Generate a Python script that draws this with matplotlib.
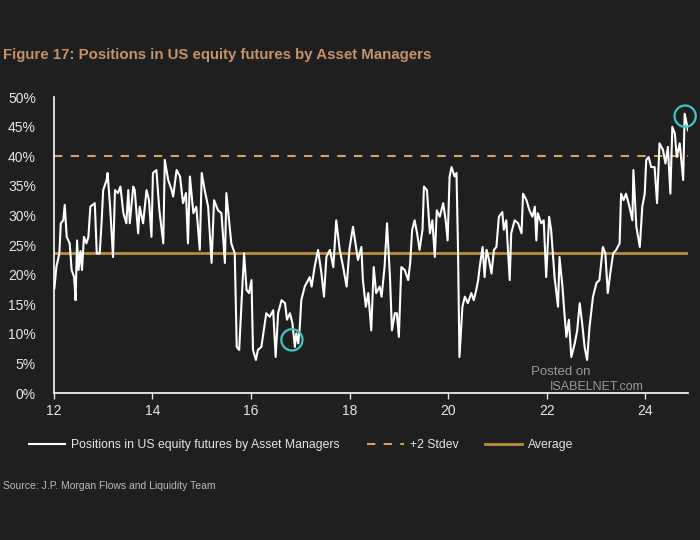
import numpy as np
import matplotlib.pyplot as plt
from matplotlib.patches import Ellipse

# weekly-ish samples (year, % of positions)
years = [12.01, 12.05, 12.11, 12.14, 12.19, 12.22, 12.26, 12.32, 12.36, 12.41, 12.44, 12.47, 12.50, 12.54,
         12.57, 12.61, 12.66, 12.70, 12.74, 12.83, 12.87, 12.93, 12.97, 13.00, 13.07, 13.09, 13.14, 13.20,
         13.24, 13.30, 13.35, 13.41, 13.47, 13.51, 13.54, 13.61, 13.64, 13.71, 13.74, 13.81, 13.88, 13.93,
         13.98, 14.01, 14.08, 14.14, 14.18, 14.22, 14.25, 14.32, 14.39, 14.42, 14.49, 14.56, 14.62, 14.68,
         14.72, 14.76, 14.83, 14.89, 14.96, 15.00, 15.06, 15.13, 15.20, 15.25, 15.33, 15.40, 15.47, 15.50,
         15.56, 15.60, 15.67, 15.71, 15.76, 15.81, 15.86, 15.91, 15.96, 16.01, 16.04, 16.10, 16.14, 16.21,
         16.25, 16.31, 16.38, 16.45, 16.50, 16.55, 16.62, 16.69, 16.73, 16.79, 16.84, 16.89, 16.92, 16.96,
         16.99, 17.02, 17.09, 17.19, 17.23, 17.29, 17.36, 17.43, 17.48, 17.53, 17.60, 17.67, 17.73, 17.80,
         17.87, 17.94, 18.00, 18.07, 18.13, 18.17, 18.24, 18.27, 18.33, 18.38, 18.44, 18.49, 18.54, 18.61,
         18.65, 18.71, 18.76, 18.82, 18.86, 18.92, 18.96, 19.00, 19.05, 19.12, 19.19, 19.23, 19.27, 19.32,
         19.37, 19.42, 19.48, 19.51, 19.57, 19.63, 19.68, 19.73, 19.77, 19.83, 19.90, 19.95, 19.99, 20.03,
         20.07, 20.13, 20.17, 20.20, 20.23, 20.29, 20.34, 20.40, 20.47, 20.52, 20.57, 20.61, 20.64, 20.70,
         20.74, 20.78, 20.83, 20.88, 20.93, 20.98, 21.03, 21.10, 21.13, 21.18, 21.25, 21.28, 21.35, 21.42,
         21.49, 21.52, 21.59, 21.65, 21.71, 21.76, 21.79, 21.82, 21.89, 21.94, 21.99, 22.05, 22.09, 22.16,
         22.23, 22.26, 22.32, 22.36, 22.40, 22.45, 22.50, 22.57, 22.62, 22.67, 22.72, 22.77, 22.82, 22.87,
         22.94, 23.01, 23.07, 23.14, 23.19, 23.24, 23.29, 23.35, 23.41, 23.48, 23.51, 23.56, 23.61, 23.68,
         23.74, 23.76, 23.82, 23.89, 23.94, 23.99, 24.02, 24.07, 24.12, 24.19, 24.24, 24.29, 24.36, 24.41,
         24.46, 24.51, 24.55, 24.60, 24.64, 24.70, 24.77, 24.80, 24.87]
positions = [17.7, 21.3, 23.6, 28.7, 29.2, 31.8, 26.4, 25.3, 20.8, 19.6, 15.7, 25.8, 20.8, 24.0,
             20.8, 26.4, 25.3, 26.4, 31.5, 32.1, 23.6, 23.6, 29.2, 34.3, 36.0, 37.2, 31.5, 23.0,
             34.3, 33.8, 34.9, 30.4, 28.7, 34.3, 28.7, 34.9, 34.3, 27.0, 31.5, 28.7, 34.3, 32.6,
             26.4, 37.2, 37.7, 30.9, 28.1, 25.3, 39.4, 36.0, 34.3, 33.2, 37.7, 36.6, 32.1, 33.8,
             25.3, 36.6, 30.4, 31.5, 24.2, 37.2, 34.3, 31.5, 22.0, 32.6, 30.9, 30.4, 22.0, 33.8,
             28.7, 25.3, 23.6, 7.8, 7.3, 15.7, 23.6, 17.4, 16.9, 19.1, 7.3, 5.6, 7.3, 7.8,
             10.1, 13.5, 12.9, 14.0, 6.1, 13.5, 15.7, 15.2, 12.4, 13.5, 11.8, 7.8, 10.1, 8.4,
             11.2, 15.7, 18.0, 19.6, 18.0, 21.3, 24.2, 20.2, 16.3, 23.0, 24.2, 21.3, 29.2, 24.2,
             21.3, 18.0, 24.5, 28.1, 24.7, 22.5, 24.7, 19.1, 14.6, 16.9, 10.6, 21.3, 16.9, 18.0,
             16.3, 21.3, 28.7, 19.6, 10.6, 13.5, 13.5, 9.5, 21.3, 20.8, 19.1, 22.0, 27.6, 29.2,
             27.0, 24.2, 27.6, 34.9, 34.3, 27.0, 29.2, 23.0, 30.9, 29.8, 32.1, 29.2, 25.8, 36.6,
             38.2, 36.6, 37.2, 24.7, 6.1, 14.6, 16.3, 15.2, 16.9, 15.7, 17.4, 19.1, 21.3, 24.7,
             19.6, 24.2, 22.5, 20.2, 24.2, 24.7, 29.8, 30.6, 27.6, 29.2, 19.1, 27.0, 29.2, 28.7,
             27.0, 33.7, 32.6, 30.9, 29.8, 31.5, 25.8, 30.4, 28.7, 29.2, 19.6, 29.8, 27.6, 19.6,
             14.6, 23.0, 18.0, 13.5, 9.5, 12.4, 6.1, 8.4, 10.6, 15.2, 11.8, 7.8, 5.6, 11.2,
             16.3, 18.6, 19.1, 24.7, 23.6, 16.9, 20.2, 23.6, 24.2, 25.3, 33.7, 32.6, 33.7, 31.5,
             29.2, 37.7, 28.1, 24.7, 31.5, 33.7, 39.4, 39.9, 38.2, 38.2, 32.1, 42.2, 41.1, 38.8,
             41.6, 33.7, 45.0, 43.9, 39.9, 42.2, 36.0, 47.2, 44.4]
average = 23.7
plus2_stdev = 40.0
# highlighted points (circled on the chart)
circle_years = [16.83, 24.81]
circle_vals = [9.0, 46.8]

bg = "#1f1f1f"
txt = "#e6e6e6"
plt.rcParams['font.family'] = ['Liberation Sans', 'DejaVu Sans']

fig = plt.figure(figsize=(7, 5.4), dpi=100, facecolor=bg)
ax = fig.add_axes([0.077, 0.272, 0.906, 0.548])
ax.set_facecolor(bg)

ax.plot(years, positions, color="white", lw=1.5, label="Positions in US equity futures by Asset Managers", zorder=3)
ax.axhline(plus2_stdev, color="#d6a35e", lw=1.5, ls=(0, (4, 4)), label="+2 Stdev", zorder=2)
ax.axhline(average, color="#b8913a", lw=2, label="Average", zorder=2)

# circles: ellipse in data units so it looks round on screen
for cx, cy in zip(circle_years, circle_vals):
    ax.add_patch(Ellipse((cx, cy), width=0.43, height=3.6, fill=False, ec="#3cc8c0", lw=1.6,
                         zorder=4, clip_on=False))

ax.set_xlim(12, 24.87)
ax.set_ylim(0, 50)
ax.set_xticks(np.arange(12, 25, 2))
ax.set_xticklabels([str(v) for v in range(12, 25, 2)])
ax.set_yticks(np.arange(0, 51, 5))
ax.set_yticklabels([f"{v}%" for v in range(0, 51, 5)])
ax.tick_params(axis="x", colors=txt, labelsize=10, length=4, width=1, direction="out")
ax.tick_params(axis="y", colors=txt, labelsize=10, length=0, pad=13)
for s in ["top", "right"]:
    ax.spines[s].set_visible(False)
for s in ["left", "bottom"]:
    ax.spines[s].set_color("white")
    ax.spines[s].set_linewidth(1.2)

fig.text(0.004, 0.898, "Figure 17: Positions in US equity futures by Asset Managers",
         color="#c8926a", fontsize=10.8, fontweight="bold", va="center")
fig.text(0.004, 0.094, "Source: J.P. Morgan Flows and Liquidity Team", color="#bbbbbb", fontsize=7.5)

# watermark (kept just above the x axis so it does not sit on the tick labels)
fig.text(0.758, 0.305, "Posted on", color="#9a9a9a", fontsize=9.5)
fig.text(0.785, 0.278, "ISABELNET.com", color="#9a9a9a", fontsize=9)

leg = fig.legend(loc="center", bbox_to_anchor=(0.43, 0.176), ncol=3, frameon=False,
                 fontsize=8.8, handlelength=3.0, columnspacing=2.2, handletextpad=0.5)
for t in leg.get_texts():
    t.set_color(txt)

fig.savefig("out.png", dpi=100, facecolor=bg)
